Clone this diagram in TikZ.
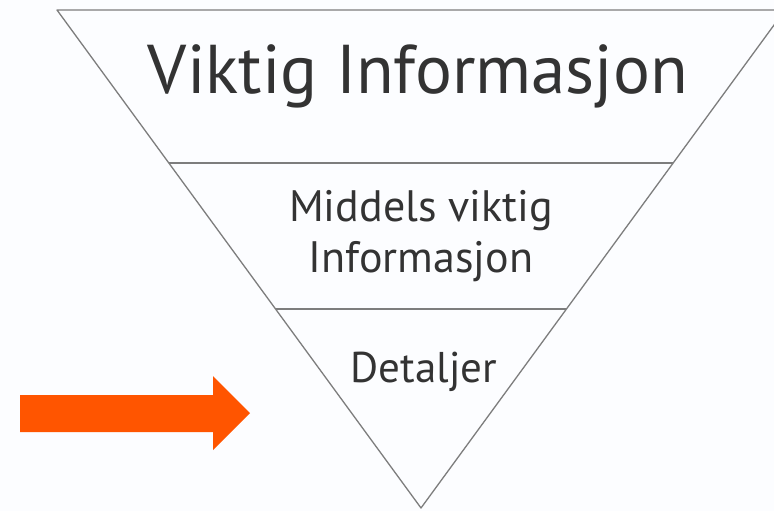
\documentclass[tikz,border=0pt]{standalone}
\usepackage{fontspec}
\setmainfont{PT Sans}
\usetikzlibrary{positioning,calc}

\definecolor{paper}{RGB}{252,253,255}
\definecolor{ink}{RGB}{51,51,51}
\definecolor{rule}{RGB}{125,125,125}
\definecolor{signal}{RGB}{255,85,0}

\begin{document}
\begin{tikzpicture}[
        x=1pt, y=-1pt,
        edge/.style = {draw=rule, line width=1.3pt, line join=round},
        level/.style = {
                text=ink,
                inner sep=0pt,
                align=center
            },
        toplevel/.style = {level, font=\fontsize{69}{75}\selectfont},
        midlevel/.style = {level, font=\fontsize{44}{51}\selectfont},
        lowlevel/.style = {level, font=\fontsize{43}{50}\selectfont},
        pointer/.style = {fill=signal}
    ]
    \fill[paper] (0,0) rectangle (774,511);
    \useasboundingbox (0,0) rectangle (774,511);
    \clip (0,0) rectangle (774,511);

    % corners of the funnel
    \coordinate (topleft)  at (57,10);
    \coordinate (topright) at (785,10);
    \coordinate (apex)     at (421,508);

    \coordinate (cutAleft)  at ($(topleft)!0.3072!(apex)$);
    \coordinate (cutAright) at ($(topright)!0.3072!(apex)$);
    \coordinate (cutBleft)  at ($(topleft)!0.6004!(apex)$);
    \coordinate (cutBright) at ($(topright)!0.6004!(apex)$);

    \path[edge] (topleft) -- (topright) -- (apex) -- cycle;
    \path[edge] (cutAleft) -- (cutAright);
    \path[edge] (cutBleft) -- (cutBright);

    \node[toplevel, anchor=base] (viktig) at (418,94) {Viktig Informasjon};
    \node[midlevel, anchor=base] (middels) at (421,272) {Middels viktig\\Informasjon};
    \node[lowlevel, anchor=base] (detaljer) at (424,382) {Detaljer};

    % arrow pointing at the bottom part
    \fill[pointer] (20,395) -- (213,395) -- (213,376) -- (250,413)
        -- (213,450) -- (213,432) -- (20,432) -- cycle;
\end{tikzpicture}
\end{document}
